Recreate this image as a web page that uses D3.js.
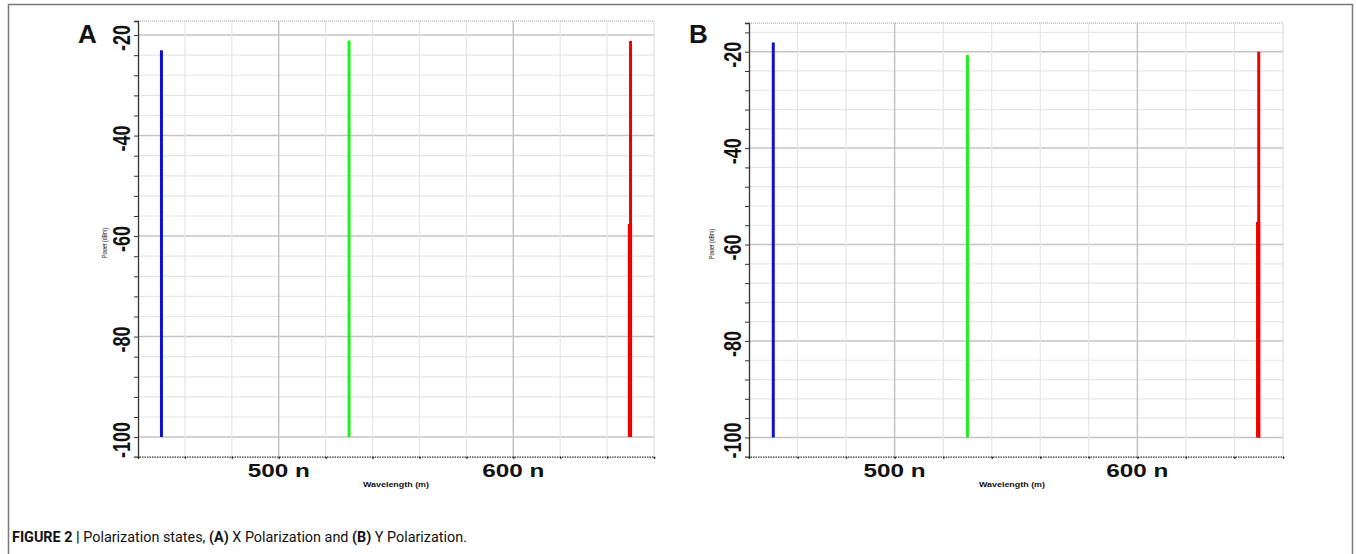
<!DOCTYPE html>
<head>
    <meta charset="utf-8">
    <script src="https://d3js.org/d3.v7.min.js"></script>
    <style>
      body { margin: 0; background: white; }
      text { font-family: "Liberation Sans", Arial, sans-serif; fill: #111; }
      .ticklabel { font-size: 18px; font-weight: bold; }
      .axistitle { font-size: 7px; font-weight: bold; }
      .panellabel { font-size: 26px; font-weight: bold; }
      .caption { font-size: 15px; font-family: Roboto, "Liberation Sans", sans-serif; }
    </style>
<body>
    <script>
        // data
        var wavelengths = [450, 530, 650]            // nm
        var lineColors = ["#1010cc", "#22ee22", "#ee0000"]
        var peakA = [-23.0, -21.1, -21.2]           // dBm, X polarization
        var peakB = [-18.1, -20.7, -20.0]           // dBm, Y polarization
        var floorLevel = -100
        var shoulderNm = 650                        // red line gets thicker below this level
        var shoulderA = -57.6
        var shoulderB = -55.3
        var yTickLabels = [-20, -40, -60, -80, -100]
        var xTickValues = [500, 600]
        var xTickLabels = ["500 n", "600 n"]
        var xDomain = [440, 660]
        var yDomainA = [-103.9, -17.2]
        var yDomainB = [-104.0, -14.05]

        var svg_w = 1356, svg_h = 554
        var svg = d3.select("body").append("svg")
          .attr("width", svg_w)
          .attr("height", svg_h)

        svg.append("rect")
          .attr("x", 8.5).attr("y", 4.5)
          .attr("width", 1344).attr("height", 570)
          .attr("fill", "white")
          .attr("stroke", "#7a7a7a")
          .attr("stroke-width", 1.5)

        var stretch = 1.35   // the source figure is stretched sideways

        function drawPanel(p){
          var x = d3.scaleLinear().domain(xDomain).range([p.left, p.right])
          var y = d3.scaleLinear().domain(p.yDomain).range([p.bottom, p.top])
          var g = svg.append("g")

          // grid
          var hLines = d3.range(-100, -12, 4).filter(function(v){ return y(v) > p.top && y(v) < p.bottom })
          g.selectAll(".hgrid").data(hLines).enter().append("line")
            .attr("x1", p.left).attr("x2", p.right)
            .attr("y1", function(d){ return y(d) }).attr("y2", function(d){ return y(d) })
            .attr("stroke", function(d){ return d % 20 == 0 ? "#c4c4c4" : "#e6e6e6" })
            .attr("stroke-width", function(d){ return d % 20 == 0 ? 1.5 : 1.2 })
          var vLines = d3.range(460, 660, 20)
          g.selectAll(".vgrid").data(vLines).enter().append("line")
            .attr("y1", p.top).attr("y2", p.bottom)
            .attr("x1", function(d){ return x(d) }).attr("x2", function(d){ return x(d) })
            .attr("stroke", function(d){ return d % 100 == 0 ? "#c4c4c4" : "#e6e6e6" })
            .attr("stroke-width", function(d){ return d % 100 == 0 ? 1.5 : 1.2 })

          // frame of plot area
          g.append("line").attr("x1", p.left).attr("x2", p.right).attr("y1", p.top).attr("y2", p.top)
            .attr("stroke", "#999").attr("stroke-dasharray", "1,1")
          g.append("line").attr("x1", p.right).attr("x2", p.right).attr("y1", p.top).attr("y2", p.bottom)
            .attr("stroke", "#d6d6d6")

          // axes
          var yAxis = g.append("g")
            .attr("transform", "translate(" + p.left + ",0)")
            .call(d3.axisLeft(y).tickValues(hLines).tickSize(4).tickFormat(""))
          yAxis.select(".domain").attr("stroke", "#333").attr("stroke-width", 1.3)
          yAxis.selectAll(".tick line").attr("stroke", "#333")

          var xAxis = g.append("g")
            .attr("transform", "translate(0," + p.bottom + ")")
            .call(d3.axisBottom(x).tickValues(d3.range(440, 661, 20)).tickSize(2).tickFormat(""))
          xAxis.select(".domain").attr("stroke", "#333").attr("stroke-dasharray", "1.5,1").attr("stroke-width", 1.2)
          xAxis.selectAll(".tick line").attr("stroke", "#222").attr("stroke-width", 1.5)

          // tick labels
          g.selectAll(".ylab").data(yTickLabels).enter().append("text")
            .classed("ticklabel", true)
            .attr("text-anchor", "middle")
            .attr("dominant-baseline", "central")
            .attr("transform", function(d){ return "translate(" + (p.left - 16) + "," + (y(d) + 3) + ") scale(" + stretch + ",1) rotate(-90)" })
            .text(function(d){ return d })

          g.selectAll(".xlab").data(xTickValues).enter().append("text")
            .classed("ticklabel", true)
            .attr("text-anchor", "middle")
            .attr("transform", function(d){ return "translate(" + x(d) + "," + (p.bottom + 20) + ") scale(" + stretch + ",1)" })
            .text(function(d, i){ return xTickLabels[i] })

          g.append("text").classed("axistitle", true)
            .attr("text-anchor", "middle")
            .attr("x", p.wlX).attr("y", p.bottom + 30)
            .attr("textLength", 66).attr("lengthAdjust", "spacingAndGlyphs")
            .text("Wavelength (m)")

          g.append("text")
            .attr("font-size", "6.5px")
            .attr("text-anchor", "middle")
            .attr("dominant-baseline", "central")
            .attr("transform", "translate(" + p.pwX + "," + p.pwY + ") rotate(-90)")
            .attr("textLength", 30).attr("lengthAdjust", "spacingAndGlyphs")
            .text("Power (dBm)")

          g.append("text").classed("panellabel", true)
            .attr("x", p.labelX).attr("y", 43)
            .text(p.label)

          // spectral lines
          g.selectAll(".peak").data(wavelengths).enter().append("line")
            .attr("x1", function(d){ return x(d) }).attr("x2", function(d){ return x(d) })
            .attr("y1", y(floorLevel))
            .attr("y2", function(d, i){ return y(p.peaks[i]) })
            .attr("stroke", function(d, i){ return lineColors[i] })
            .attr("stroke-width", 3)
          g.append("line")
            .attr("x1", x(shoulderNm) - 0.6).attr("x2", x(shoulderNm) - 0.6)
            .attr("y1", y(floorLevel)).attr("y2", y(p.shoulder))
            .attr("stroke", lineColors[2])
            .attr("stroke-width", 4.2)
        }

        drawPanel({label: "A", labelX: 78, left: 138, right: 654, top: 21, bottom: 456.7,
          yDomain: yDomainA, peaks: peakA, shoulder: shoulderA, wlX: 396, pwX: 104, pwY: 243})
        drawPanel({label: "B", labelX: 689, left: 749, right: 1283, top: 23, bottom: 456.7,
          yDomain: yDomainB, peaks: peakB, shoulder: shoulderB, wlX: 1012, pwX: 711, pwY: 244})

        // caption, squeezed sideways as a whole to look condensed
        var capG = svg.append("g")
        var cap = capG.append("text").classed("caption", true)
          .attr("x", 0).attr("y", 0)
        cap.append("tspan").attr("font-weight", "bold").text("FIGURE 2 | ")
        cap.append("tspan").text("Polarization states, ")
        cap.append("tspan").attr("font-weight", "bold").text("(A)")
        cap.append("tspan").text(" X Polarization and ")
        cap.append("tspan").attr("font-weight", "bold").text("(B)")
        cap.append("tspan").text(" Y Polarization.")
        var capLen = cap.node().getComputedTextLength()
        capG.attr("transform", "translate(12,542) scale(" + (455 / capLen) + ",1)")
    </script>
</body>
